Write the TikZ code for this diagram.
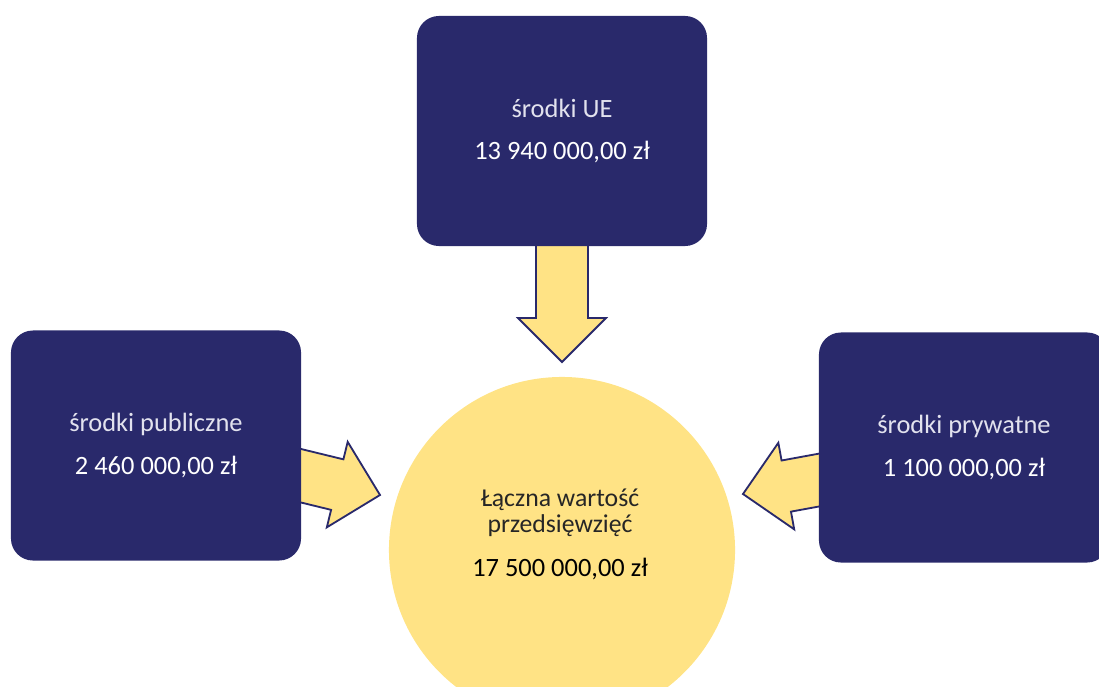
\documentclass[tikz,border=0pt]{standalone}
\usepackage{fontspec}
\setmainfont{Carlito}
\usepackage{tikz}

\definecolor{boxnavy}{RGB}{41,41,107}
\definecolor{fundyellow}{RGB}{255,227,133}
\definecolor{lighttext}{RGB}{226,226,238}

\tikzset{
  fundbox/.style={fill=boxnavy, rounded corners=0.55cm, minimum width=7.25cm, minimum height=5.75cm,
    align=center, text=white, font=\fontsize{18.8}{30}\selectfont},
  totalcircle/.style={circle, fill=fundyellow, minimum size=8.65cm, inner sep=0pt},
  blockarrow/.style={fill=fundyellow, draw=boxnavy, line width=1.3pt, line join=miter},
}

\begin{document}
\begin{tikzpicture}[x=0.025cm, y=-0.025cm]
    % Canvas (circle and right box run off the edge)
    \useasboundingbox (0,0) rectangle (1099,686);
    \clip (0,0) rectangle (1099,686);

    % Total value circle
    \node[totalcircle] (total) at (562,550) {};
    \node[align=center, text=black!85, font=\fontsize{18.3}{18.6}\selectfont] (totaltext) at (560,534)
        {Łączna wartość\\przedsięwzięć\\[12.5pt]{\fontsize{18.8}{18.6}\selectfont\color{black}17 500 000,00 zł}};

    % Block arrows towards the circle (tails hidden under the boxes)
    \coordinate (ueTip) at (562,362);
    \coordinate (pubTip) at (380,495);
    \coordinate (prywTip) at (743,494);
    \foreach \tip/\ang in {ueTip/-90, pubTip/-13.7, prywTip/190.4}
        \draw[blockarrow, shift={(\tip)}, rotate=\ang]
            (0,0) -- (-44,-44) -- (-44,-26) -- (-118,-26) -- (-118,26) -- (-44,26) -- (-44,44) -- cycle;

    % Funding sources
    \node[fundbox] (ue) at (562,131) {{\color{lighttext}środki UE}\\13 940 000,00 zł};
    \node[fundbox] (pub) at (156,445.5) {{\color{lighttext}środki publiczne}\\2 460 000,00 zł};
    \node[fundbox] (pryw) at (964,447.5) {{\color{lighttext}środki prywatne}\\1 100 000,00 zł};
\end{tikzpicture}
\end{document}
